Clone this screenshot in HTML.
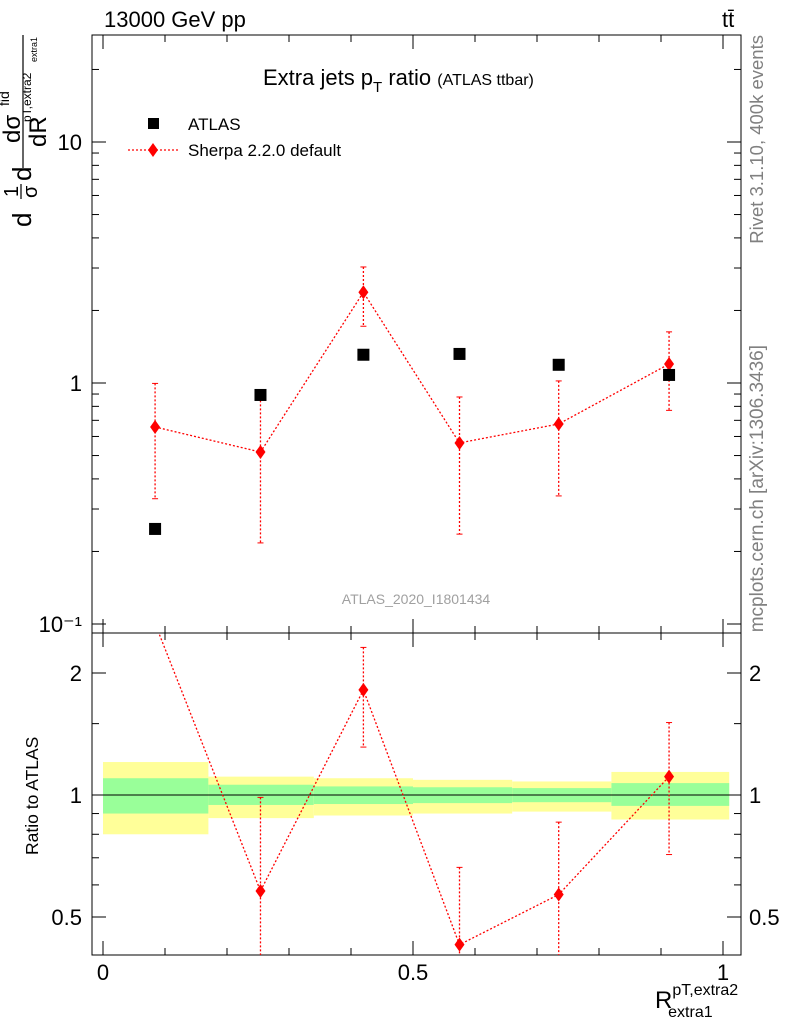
<!DOCTYPE html>
<html><head><meta charset="utf-8"><style>
body{margin:0;background:#fff;overflow:hidden}
svg{display:block;font-family:"Liberation Sans",sans-serif}
</style></head><body>
<svg id="c" width="786" height="1024" viewBox="0 0 786 1024"></svg>
<script>
const binEdges=[0,0.17,0.34,0.5,0.66,0.82,1.01];
const binCenters=[0.084,0.254,0.42,0.575,0.735,0.913];
const atlasValues=[0.248,0.892,1.31,1.32,1.19,1.08];
const sherpaValues=[0.657,0.517,2.38,0.564,0.676,1.199];
const sherpaUp=[0.996,0.88,3.03,0.875,1.02,1.63];
const sherpaDown=[0.331,0.217,1.72,0.236,0.34,0.77];
const yellowUp=[1.206,1.11,1.10,1.09,1.08,1.14];
const yellowDown=[0.80,0.877,0.89,0.90,0.91,0.87];
const greenUp=[1.10,1.06,1.05,1.045,1.04,1.07];
const greenDown=[0.90,0.945,0.95,0.955,0.96,0.94];
const xTicks=[0,0.5,1];
const xTickLabels=["0","0.5","1"];
const mainTicks=[0.1,1,10];
const mainTickLabels=["10\u207B\u00B9","1","10"];
const ratioTicks=[0.5,1,2];
const ratioTickLabels=["0.5","1","2"];

const NS="http://www.w3.org/2000/svg",svg=document.getElementById('c');
const L=92,R=741,T=35,MB=633,RB=955;
const X=v=>103+v*620;
const Y=v=>383-Math.log10(v)*241;
const YR=v=>795-Math.log2(v)*122;
function el(t,a,p){const e=document.createElementNS(NS,t);for(const k in a)e.setAttribute(k,a[k]);(p||svg).appendChild(e);return e;}
function txt(s,a,p){const e=el('text',a,p);e.textContent=s;return e;}

for(let i=0;i<binCenters.length;i++){
  const x0=X(binEdges[i]),x1=X(binEdges[i+1]);
  const y=el('rect',{x:x0,y:YR(yellowUp[i]),width:x1-x0,height:YR(yellowDown[i])-YR(yellowUp[i]),fill:'#ffff99'});
  
  
  const g=el('rect',{x:x0,y:YR(greenUp[i]),width:x1-x0,height:YR(greenDown[i])-YR(greenUp[i]),fill:'#99ff99'});
  
  
}
el('line',{x1:L,x2:R,y1:YR(1),y2:YR(1),stroke:'#000','stroke-width':1});

const f1=el('rect',{x:L,y:T,width:R-L,height:MB-T,fill:'none',stroke:'#000','stroke-width':1});

const f2=el('rect',{x:L,y:MB,width:R-L,height:RB-MB,fill:'none',stroke:'#000','stroke-width':1});


for(let v=0;v<=1.0001;v+=0.1){
  const major=Math.abs(v*2-Math.round(v*2))<1e-6,len=major?14:7;
  for(const [yb,dir] of [[MB,-1],[T,1],[RB,-1],[MB,1]])
    el('line',{x1:X(v),x2:X(v),y1:yb,y2:yb+dir*len,stroke:'#000'});
}
xTicks.forEach((v,i)=>{const t=txt(xTickLabels[i],{x:X(v),y:980,'font-size':22,'text-anchor':'middle'});
  });

for(let d=-1;d<=1;d++)for(let m=1;m<=9;m++){
  const v=m*Math.pow(10,d),y=Y(v);if(y<T||y>MB)continue;
  const len=m==1?14:7;
  el('line',{x1:L,x2:L+len,y1:y,y2:y,stroke:'#000'});
  el('line',{x1:R,x2:R-len,y1:y,y2:y,stroke:'#000'});
}
mainTicks.forEach((v,i)=>{const t=txt(mainTickLabels[i],{x:82,y:Y(v)+8,'font-size':22,'text-anchor':'end'});
  });

[0.5,0.6,0.7,0.8,0.9,1,1.5,2].forEach(v=>{const y=YR(v),len=[0.5,1,2].includes(v)?14:7;
  el('line',{x1:L,x2:L+len,y1:y,y2:y,stroke:'#000'});el('line',{x1:R,x2:R-len,y1:y,y2:y,stroke:'#000'});});
ratioTicks.forEach((v,i)=>{
  const a=txt(ratioTickLabels[i],{x:82,y:YR(v)+8,'font-size':22,'text-anchor':'end'});
  
  const b=txt(ratioTickLabels[i],{x:749,y:YR(v)+8,'font-size':22});
  
});

const defs=el('defs',{});
const c1=el('clipPath',{id:'cm'},defs);el('rect',{x:L,y:T,width:R-L,height:MB-T},c1);
const c2=el('clipPath',{id:'cr'},defs);el('rect',{x:L,y:MB,width:R-L,height:RB-MB},c2);
const gm=el('g',{'clip-path':'url(#cm)'}),gr=el('g',{'clip-path':'url(#cr)'});

const red='#ff0000';
function diamond(g,x,y){return el('path',{d:`M${x} ${y-7}L${x+5} ${y}L${x} ${y+7}L${x-5} ${y}Z`,fill:red},g);}
el('polyline',{points:binCenters.map((c,i)=>X(c)+','+Y(sherpaValues[i])).join(' '),fill:'none',stroke:red,'stroke-dasharray':'2,2','stroke-width':1.3},gm);
binCenters.forEach((c,i)=>{
  const e=el('line',{x1:X(c),x2:X(c),y1:Y(sherpaUp[i]),y2:Y(sherpaDown[i]),stroke:red,'stroke-dasharray':'2,2','stroke-width':1.3},gm);
  
  [sherpaUp[i],sherpaDown[i]].forEach(v=>el('line',{x1:X(c)-3,x2:X(c)+3,y1:Y(v),y2:Y(v),stroke:red,'stroke-width':1},gm));
  const d=diamond(gm,X(c),Y(sherpaValues[i]));
  
  const s=el('rect',{x:X(c)-6,y:Y(atlasValues[i])-6,width:12,height:12,fill:'#000'},gm);
  
});
const ratio=sherpaValues.map((v,i)=>v/atlasValues[i]);
el('polyline',{points:binCenters.map((c,i)=>X(c)+','+YR(ratio[i])).join(' '),fill:'none',stroke:red,'stroke-dasharray':'2,2','stroke-width':1.3},gr);
binCenters.forEach((c,i)=>{
  if(YR(ratio[i])<MB||YR(ratio[i])>RB)return;
  const u=sherpaUp[i]/atlasValues[i],dn=sherpaDown[i]/atlasValues[i];
  const e=el('line',{x1:X(c),x2:X(c),y1:YR(u),y2:YR(dn),stroke:red,'stroke-dasharray':'2,2','stroke-width':1.3},gr);
  
  [u,dn].forEach(v=>el('line',{x1:X(c)-3,x2:X(c)+3,y1:YR(v),y2:YR(v),stroke:red,'stroke-width':1},gr));
  const d=diamond(gr,X(c),YR(ratio[i]));
  
});

function T2(s,a,name,p){const t=txt(s,a,p);return t;}
T2('13000 GeV pp',{x:104,y:27,'font-size':22},'energy-label');
T2('tt\u0304',{x:722,y:27,'font-size':22},'process-label');
const ti=T2('',{x:263,y:85,'font-size':22},'plot-title');
ti.innerHTML='Extra jets p<tspan font-size="15" dy="7">T</tspan><tspan dy="-7"> ratio </tspan><tspan font-size="16">(ATLAS ttbar)</tspan>';
el('rect',{x:148,y:118,width:11,height:11,fill:'#000'});
T2('ATLAS',{x:188,y:130,'font-size':17},'legend-atlas');
el('line',{x1:128,x2:180,y1:150,y2:150,stroke:red,'stroke-dasharray':'2,2','stroke-width':1.3});
diamond(svg,153,150);
T2('Sherpa 2.2.0 default',{x:188,y:156,'font-size':17},'legend-sherpa');
T2('ATLAS_2020_I1801434',{x:416,y:604,'font-size':14,fill:'#a0a0a0','text-anchor':'middle'},'analysis-label');
T2('Rivet 3.1.10,  400k events',{x:0,y:0,'font-size':18.5,fill:'#808080','text-anchor':'end',transform:'translate(763,35) rotate(-90)'},'rivet-label');
T2('mcplots.cern.ch [arXiv:1306.3436]',{x:0,y:0,'font-size':19,fill:'#808080','text-anchor':'end',transform:'translate(763,345) rotate(-90)'},'mcplots-label');
T2('Ratio to ATLAS',{x:0,y:0,'font-size':17.5,'text-anchor':'start',transform:'translate(38,855) rotate(-90)'},'ratio-y-axis-title');
const xl=T2('',{x:655,y:1008,'font-size':24},'x-axis-title');
xl.innerHTML='R<tspan font-size="16" dy="-13">pT,extra2</tspan><tspan font-size="16" dx="-70" dy="22">extra1</tspan>';

const yg=el('g',{transform:'rotate(-90)'});


txt('d',{x:-227,y:31,'font-size':26},yg);
txt('1',{x:-197,y:18,'font-size':20},yg);
el('line',{x1:-199,x2:-184,y1:21,y2:21,stroke:'#000','stroke-width':1.2},yg);
txt('σ',{x:-198,y:37,'font-size':20},yg);
txt('d',{x:-181,y:31,'font-size':26},yg);
el('line',{x1:-168,x2:-35,y1:23,y2:23,stroke:'#000','stroke-width':1.2},yg);
txt('dσ',{x:-143,y:20,'font-size':24},yg);
txt('fid',{x:-106,y:9,'font-size':14},yg);
txt('dR',{x:-147,y:46,'font-size':24},yg);
txt('pT,extra2',{x:-122,y:31,'font-size':12},yg);
txt('extra1',{x:-62,y:37,'font-size':9},yg);
</script>
</body></html>
